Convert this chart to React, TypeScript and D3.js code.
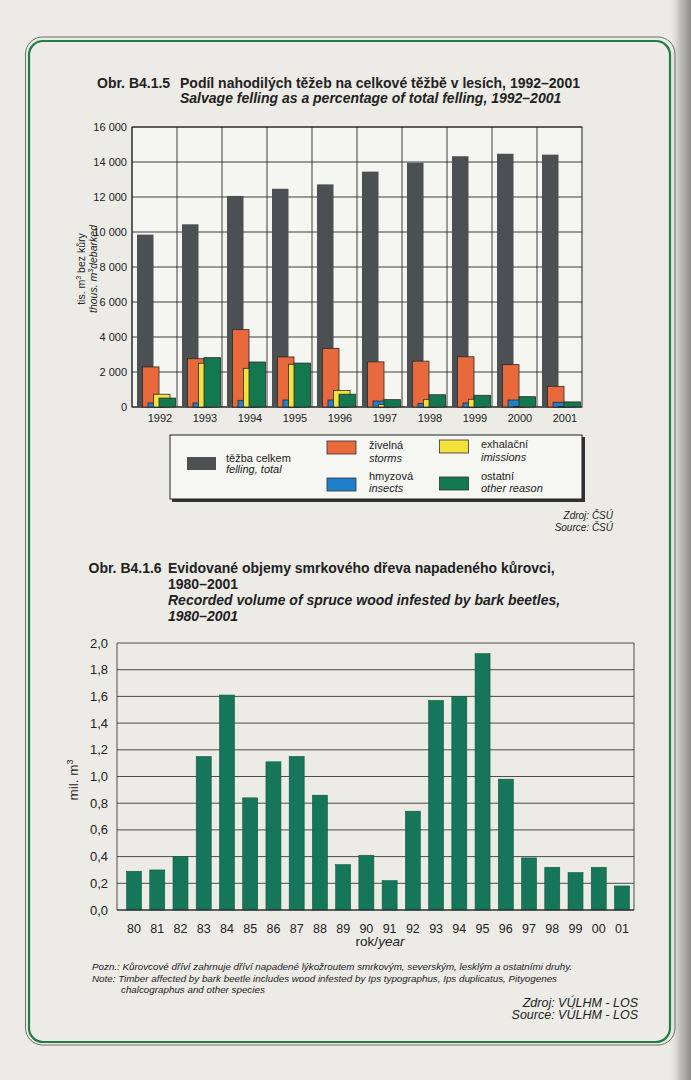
import React from 'react';
import * as d3 from 'd3';

// ---------- Chart 1 data (thous. m3 debarked) ----------
const years1 = ['1992', '1993', '1994', '1995', '1996', '1997', '1998', '1999', '2000', '2001'];
const totalFelling = [9850, 10440, 12060, 12470, 12720, 13450, 13960, 14330, 14470, 14420];
const stormFelling = [2290, 2760, 4420, 2860, 3350, 2580, 2620, 2870, 2420, 1180];
const insectFelling = [230, 230, 380, 400, 400, 340, 200, 230, 400, 270];
const immissionFelling = [730, 2500, 2210, 2440, 950, 150, 420, 440, 40, 30];
const otherFelling = [510, 2820, 2570, 2510, 730, 420, 700, 670, 590, 290];
const yTicks1 = [0, 2000, 4000, 6000, 8000, 10000, 12000, 14000, 16000];

const seriesKeys = ['total', 'storms', 'insects', 'immissions', 'other'];
const seriesValues = [totalFelling, stormFelling, insectFelling, immissionFelling, otherFelling];
const seriesColors = ['#4d5052', '#e8693b', '#1f7fca', '#f4e23c', '#14784f'];

// ---------- Chart 2 data (mil. m3) ----------
const years2 = ['80', '81', '82', '83', '84', '85', '86', '87', '88', '89', '90', '91', '92', '93', '94', '95', '96', '97', '98', '99', '00', '01'];
const beetleVolume = [0.29, 0.30, 0.40, 1.15, 1.61, 0.84, 1.11, 1.15, 0.86, 0.34, 0.41, 0.22, 0.74, 1.57, 1.60, 1.92, 0.98, 0.39, 0.32, 0.28, 0.32, 0.18];
const yTicks2 = [0, 0.2, 0.4, 0.6, 0.8, 1.0, 1.2, 1.4, 1.6, 1.8, 2.0];

const locale = d3.formatLocale({ decimal: ',', thousands: ' ', grouping: [3], currency: ['', ''] });
const fmt1 = locale.format(',');
const fmt2 = locale.format('.1f');

const FONT = '"Liberation Sans", Arial, sans-serif';

export default function App() {
  React.useEffect(() => {
    document.body.style.margin = '0';
  }, []);

  // chart 1 scales
  const p1 = { left: 132, right: 582, top: 127, bottom: 407 };
  const x0 = d3.scaleBand<string>().domain(years1).range([p1.left, p1.right]).padding(0);
  const x1 = d3.scalePoint<string>().domain(seriesKeys).range([5, 27]);
  const y1 = d3.scaleLinear().domain([0, 16000]).range([p1.bottom, p1.top]);
  const barW1 = 16.5;

  // chart 2 scales
  const p2 = { left: 117, right: 634, top: 643, bottom: 910 };
  const xb = d3.scaleBand<string>().domain(years2).range([122.4, 633.6]).paddingInner(0.355).paddingOuter(0.1775);
  const y2 = d3.scaleLinear().domain([0, 2]).range([p2.bottom, p2.top]);

  const legendItems = [
    { color: seriesColors[0], x: 187, y: 457, tx: 226, l1: 'těžba celkem', l2: 'felling, total', b1: 462, b2: 473, stroke: 'none' },
    { color: seriesColors[1], x: 327, y: 441, tx: 369, l1: 'živelná', l2: 'storms', b1: 449, b2: 461.5, stroke: '#333' },
    { color: seriesColors[2], x: 327, y: 478, tx: 369, l1: 'hmyzová', l2: 'insects', b1: 480, b2: 492, stroke: '#333' },
    { color: seriesColors[3], x: 439.5, y: 440, tx: 481, l1: 'exhalační', l2: 'imissions', b1: 448, b2: 460.5, stroke: '#333' },
    { color: seriesColors[4], x: 439.5, y: 477, tx: 481, l1: 'ostatní', l2: 'other reason', b1: 480, b2: 492, stroke: '#333' },
  ];

  return (
    <svg width={691} height={1080} style={{ position: 'absolute', left: 0, top: 0, fontFamily: FONT }}>
      <defs>
        <linearGradient id="edge" x1="0" x2="1" y1="0" y2="0">
          <stop offset="0" stopColor="#ecebe6" stopOpacity={0} />
          <stop offset="0.5" stopColor="#b9b8b3" stopOpacity={0.8} />
          <stop offset="1" stopColor="#8d8c88" />
        </linearGradient>
      </defs>
      <rect x={0} y={0} width={691} height={1080} fill="#ecebe6" />
      <rect x={668} y={0} width={23} height={1080} fill="url(#edge)" />

      {/* frame */}
      <rect x={25.5} y={37} width={649.5} height={1008} rx={17} fill="none" stroke="#6d6d6a" strokeWidth={1} />
      <rect x={29} y={41} width={641} height={1001} rx={14} fill="none" stroke="#1f7d45" strokeWidth={2.2} />

      {/* ---------- Chart 1 ---------- */}
      <text x={97} y={88} fontSize={14} fontWeight="bold" fill="#222">Obr. B4.1.5</text>
      <text x={180} y={88} fontSize={14} fontWeight="bold" fill="#222">Podíl nahodilých těžeb na celkové těžbě v lesích, 1992–2001</text>
      <text x={180} y={103} fontSize={14} fontWeight="bold" fontStyle="italic" fill="#222">Salvage felling as a percentage of total felling, 1992–2001</text>

      <rect x={p1.left} y={p1.top} width={p1.right - p1.left} height={p1.bottom - p1.top} fill="#f5f5f2" />
      {yTicks1.map((t) => (
        <g key={'g1' + t}>
          <line x1={p1.left} x2={p1.right} y1={y1(t)} y2={y1(t)} stroke="#2b2b2b" strokeWidth={0.9} />
          <text x={127} y={y1(t) + 4} fontSize={11} textAnchor="end" fill="#222">{fmt1(t)}</text>
        </g>
      ))}
      {years1.map((yr) => (
        <line key={'v' + yr} x1={x0(yr)!} x2={x0(yr)!} y1={p1.top} y2={p1.bottom} stroke="#2b2b2b" strokeWidth={0.9} />
      ))}
      <rect x={p1.left} y={p1.top} width={p1.right - p1.left} height={p1.bottom - p1.top} fill="none" stroke="#222" strokeWidth={1} />

      {seriesKeys.map((k, si) => (
        <g key={k}>
          {years1.map((yr, i) => {
            const v = seriesValues[si][i];
            return (
              <rect
                key={yr}
                x={x0(yr)! + x1(k)!}
                y={y1(v)}
                width={barW1}
                height={y1(0) - y1(v)}
                fill={seriesColors[si]}
                stroke={si === 0 ? 'none' : '#2a2a2a'}
                strokeWidth={0.8}
              />
            );
          })}
        </g>
      ))}
      {years1.map((yr) => (
        <text key={'xl' + yr} x={x0(yr)! + 28} y={422} fontSize={11} textAnchor="middle" fill="#222">{yr}</text>
      ))}

      <text transform={`translate(85,269) rotate(-90)`} fontSize={10.5} textAnchor="middle" fill="#222">
        tis. m<tspan dy={-4} fontSize={7}>3</tspan><tspan dy={4}> bez kůry</tspan>
      </text>
      <text transform={`translate(97,269) rotate(-90)`} fontSize={10.5} fontStyle="italic" textAnchor="middle" fill="#222">
        thous. m<tspan dy={-4} fontSize={7}>3</tspan><tspan dy={4}>debarked</tspan>
      </text>

      {/* legend */}
      <rect x={172} y={437} width={413} height={65} fill="#333" />
      <rect x={170} y={435} width={412} height={64} fill="#f6f6f3" stroke="#222" strokeWidth={1} />
      {legendItems.map((it) => (
        <g key={it.l1}>
          <rect x={it.x} y={it.y} width={29} height={13} fill={it.color} stroke={it.stroke} strokeWidth={0.8} />
          <text x={it.tx} y={it.b1} fontSize={11} fill="#222">{it.l1}</text>
          <text x={it.tx} y={it.b2} fontSize={11} fontStyle="italic" fill="#222">{it.l2}</text>
        </g>
      ))}

      <text x={613} y={519} fontSize={10} fontStyle="italic" textAnchor="end" fill="#222">Zdroj: ČSÚ</text>
      <text x={613} y={531} fontSize={10} fontStyle="italic" textAnchor="end" fill="#222">Source: ČSÚ</text>

      {/* ---------- Chart 2 ---------- */}
      <text x={88.5} y={573} fontSize={14} fontWeight="bold" fill="#222">Obr. B4.1.6</text>
      <text x={168} y={573} fontSize={14} fontWeight="bold" fill="#222">Evidované objemy smrkového dřeva napadeného kůrovci,</text>
      <text x={168} y={589} fontSize={14} fontWeight="bold" fill="#222">1980–2001</text>
      <text x={168} y={605} fontSize={14} fontWeight="bold" fontStyle="italic" fill="#222">Recorded volume of spruce wood infested by bark beetles,</text>
      <text x={168} y={621} fontSize={14} fontWeight="bold" fontStyle="italic" fill="#222">1980–2001</text>

      {yTicks2.map((t) => (
        <g key={'g2' + t}>
          <line x1={p2.left} x2={p2.right} y1={y2(t)} y2={y2(t)} stroke="#3a3a3a" strokeWidth={0.9} />
          <text x={108} y={y2(t) + 4.5} fontSize={13} textAnchor="end" fill="#222">{fmt2(t)}</text>
        </g>
      ))}
      <line x1={p2.left} x2={p2.left} y1={p2.top} y2={p2.bottom} stroke="#3a3a3a" strokeWidth={0.9} />
      <line x1={p2.right} x2={p2.right} y1={p2.top} y2={p2.bottom} stroke="#3a3a3a" strokeWidth={0.9} />
      {years2.map((yr, i) => (
        <rect key={'b' + yr} x={xb(yr)!} y={y2(beetleVolume[i])} width={xb.bandwidth()} height={y2(0) - y2(beetleVolume[i])} fill="#16765a" stroke="#0f5a42" strokeWidth={0.6} />
      ))}
      <line x1={p2.left} x2={p2.right} y1={p2.bottom} y2={p2.bottom} stroke="#222" strokeWidth={1.2} />
      {years2.map((yr) => (
        <text key={'xl2' + yr} x={xb(yr)! + xb.bandwidth() / 2} y={933} fontSize={12.5} textAnchor="middle" fill="#222">{yr}</text>
      ))}
      <text x={380} y={946} fontSize={13.5} textAnchor="middle" fill="#222">
        rok/<tspan fontStyle="italic">year</tspan>
      </text>
      <text transform={`translate(78,780) rotate(-90)`} fontSize={13.5} textAnchor="middle" fill="#222">
        mil. m<tspan dy={-5} fontSize={9}>3</tspan>
      </text>

      <text x={92} y={970} fontSize={9.8} fontStyle="italic" fill="#222">Pozn.: Kůrovcové dříví zahrnuje dříví napadené lýkožroutem smrkovým, severským, lesklým a ostatními druhy.</text>
      <text x={92} y={981.5} fontSize={9.8} fontStyle="italic" fill="#222">Note: Timber affected by bark beetle includes wood infested by Ips typographus, Ips duplicatus, Pityogenes</text>
      <text x={121} y={993} fontSize={9.8} fontStyle="italic" fill="#222">chalcographus and other species</text>

      <text x={638} y={1007} fontSize={12.5} fontStyle="italic" textAnchor="end" fill="#222">Zdroj: VÚLHM - LOS</text>
      <text x={638} y={1019} fontSize={12.5} fontStyle="italic" textAnchor="end" fill="#222">Source: VÚLHM - LOS</text>
    </svg>
  );
}
